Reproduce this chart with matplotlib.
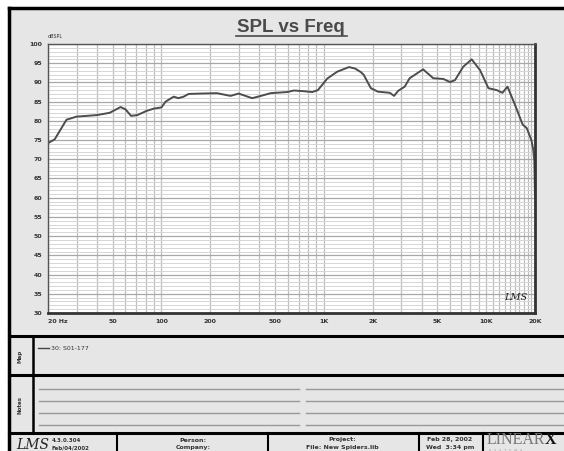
import numpy as np
import matplotlib.pyplot as plt
from matplotlib.ticker import FixedLocator, NullFormatter

# SPL response
freq = [20, 22, 26, 30, 40, 48, 56, 60, 65, 71, 81, 90, 100, 106, 119, 127, 137,
        147, 173, 220, 266, 299, 362, 410, 470, 594, 655, 760, 850, 920, 1050,
        1210, 1430, 1560, 1690, 1760, 1950, 2150, 2550, 2710, 2870, 3150, 3380,
        4090, 4720, 5450, 5990, 6430, 7230, 8150, 9170, 10330, 11620, 12600,
        13540, 15080, 16800, 17800, 19000, 19500, 19800, 20000]
spl = [74.2, 75.2, 80.3, 81.1, 81.5, 82.1, 83.6, 83.0, 81.3, 81.5, 82.6, 83.2,
       83.5, 85.0, 86.3, 85.9, 86.3, 87.0, 87.1, 87.2, 86.5, 87.1, 85.9, 86.5,
       87.2, 87.5, 87.9, 87.7, 87.5, 88.0, 91.0, 92.8, 94.0, 93.6, 92.7, 92.0,
       88.5, 87.6, 87.3, 86.5, 87.8, 88.9, 91.1, 93.4, 91.1, 90.9, 90.1, 90.6,
       94.1, 96.0, 93.2, 88.5, 88.0, 87.3, 88.9, 84.1, 79.0, 78.1, 75.0, 72.5,
       69.8, 60.0]

xticks = [20, 50, 100, 200, 500, 1000, 2000, 5000, 10000, 20000]
xlabels = ['20 Hz', '50', '100', '200', '500', '1K', '2K', '5K', '10K', '20K']
yticks = list(range(30, 101, 5))

W, H = 564, 451
fig = plt.figure(figsize=(W / 100, H / 100), dpi=100)
fig.patch.set_facecolor('white')

# page layer in pixel coordinates
bg = fig.add_axes([0, 0, 1, 1])
bg.set_xlim(0, W)
bg.set_ylim(H, 0)
bg.axis('off')
bg.add_patch(plt.Rectangle((9, 8), W - 9, H - 8, facecolor='#e6e6e6', edgecolor='none'))
bg.plot([9, 9], [8, H], color='black', lw=2.5)
bg.plot([9, W], [8, 8], color='black', lw=2.5)
for yy in [336, 375, 433]:
    bg.plot([9, W], [yy, yy], color='black', lw=2.2)
bg.plot([33, 33], [336, 433], color='black', lw=1.8)
for xx in [117, 268, 419, 483]:
    bg.plot([xx, xx], [433, H], color='black', lw=1.5)

bg.text(291, 27, 'SPL vs Freq', fontsize=13.5, fontweight='bold', color='#4a4a4a',
        family='Liberation Sans', ha='center', va='center')
bg.plot([236, 347], [35.5, 35.5], color='#4a4a4a', lw=1.2)

bg.text(48, 37, 'dBSPL', fontsize=3.5, color='#333', ha='left', va='center')

# map panel
bg.text(20, 356, 'Map', fontsize=4, fontweight='bold', color='#333', rotation=90,
        ha='center', va='center')
bg.plot([38, 49], [348, 348], color='#444', lw=1.0)
bg.text(51, 348, '30: S01-177', fontsize=4.5, color='#333', ha='left', va='center')

# notes panel
bg.text(20, 405, 'Notes', fontsize=4, fontweight='bold', color='#333', rotation=90,
        ha='center', va='center')
for yy in [389, 401, 413, 425]:
    bg.plot([39, 299], [yy, yy], color='#999', lw=1.0)
    bg.plot([306, W], [yy, yy], color='#999', lw=1.0)

# footer
bg.text(16, 445, 'LMS', fontsize=10, style='italic', color='#222', ha='left', va='center',
        family='DejaVu Serif')
bg.text(52, 440, '4.3.0.304', fontsize=4, fontweight='bold', color='#333', va='center')
bg.text(52, 448, 'Feb/04/2002', fontsize=4, fontweight='bold', color='#333', va='center')
bg.text(193, 440, 'Person:', fontsize=4.5, fontweight='bold', color='#333', ha='center', va='center')
bg.text(193, 448, 'Company:', fontsize=4.5, fontweight='bold', color='#333', ha='center', va='center')
bg.text(342, 440, 'Project:', fontsize=4.5, fontweight='bold', color='#333', ha='center', va='center')
bg.text(342, 448, 'File: New Spiders.lib', fontsize=4.5, fontweight='bold', color='#333',
        ha='center', va='center')
bg.text(450, 440, 'Feb 28, 2002', fontsize=4.5, fontweight='bold', color='#333', ha='center', va='center')
bg.text(450, 448, 'Wed  3:34 pm', fontsize=4.5, fontweight='bold', color='#333', ha='center', va='center')
bg.text(487, 440, 'LINEAR', fontsize=11.5, color='#777', family='Liberation Serif',
        ha='left', va='center')
bg.text(545, 440, 'X', fontsize=11.5, fontweight='bold', color='#111', family='Liberation Serif',
        ha='left', va='center')
bg.text(489, 450.5, 'S   Y   S   T   E   M   S', fontsize=2.3, color='#999', ha='left', va='center')

# the response plot
ax = fig.add_axes([48 / W, 1 - 313 / H, 487 / W, 269 / H])
ax.set_facecolor('white')
ax.set_xscale('log')
ax.set_xlim(20, 20000)
ax.set_ylim(30, 100)

vlines = list(range(30, 100, 10)) + list(range(100, 1000, 100)) + list(range(1000, 20000, 1000))
ax.xaxis.set_major_locator(FixedLocator(xticks))
ax.xaxis.set_minor_locator(FixedLocator(vlines))
ax.xaxis.set_minor_formatter(NullFormatter())
ax.set_xticklabels(xlabels)
ax.set_yticks(yticks)
ax.set_yticks(range(30, 101), minor=True)
ax.grid(True, which='major', axis='y', color='#a8a8a8', lw=0.9)
ax.grid(True, which='minor', axis='y', color='#d6d6d6', lw=0.7)
ax.grid(True, which='both', axis='x', color='#bdbdbd', lw=0.9)
ax.set_axisbelow(True)
ax.tick_params(which='both', length=0, labelsize=4.5, colors='#333', pad=4)
for lbl in ax.get_xticklabels() + ax.get_yticklabels():
    lbl.set_fontweight('bold')
ax.get_xticklabels()[0].set_horizontalalignment('left')

for side in ['top', 'left']:
    ax.spines[side].set_color('#555')
    ax.spines[side].set_linewidth(1.0)
for side in ['right', 'bottom']:
    ax.spines[side].set_color('#333')
    ax.spines[side].set_linewidth(2.0)

ax.plot(freq, spl, color='#4d4d4d', lw=1.4)

ax.text(0.985, 0.04, 'LMS', transform=ax.transAxes, fontsize=7, style='italic',
        color='#222', family='DejaVu Serif', ha='right', va='bottom')

fig.savefig('out.png', dpi=100)
